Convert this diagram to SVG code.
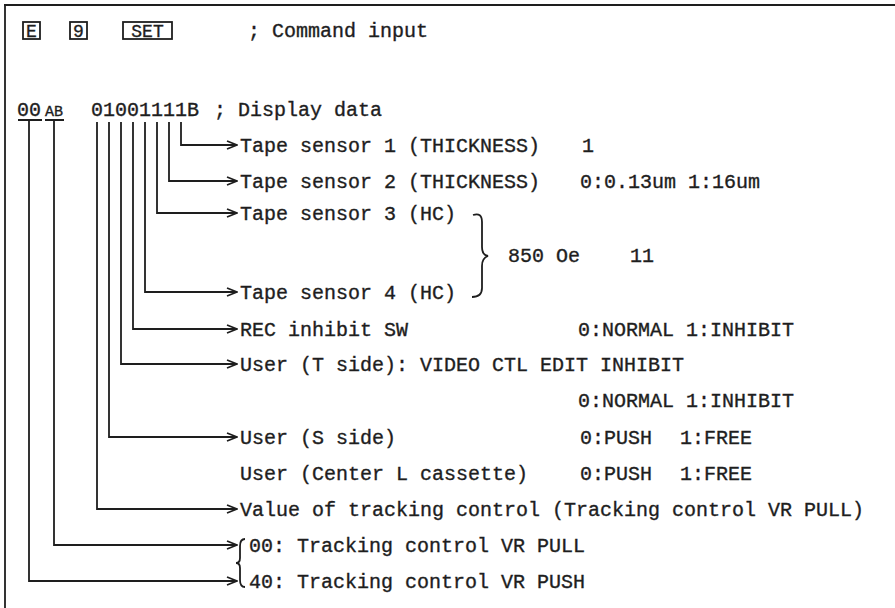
<svg xmlns="http://www.w3.org/2000/svg" width="895" height="608" viewBox="0 0 895 608">
<defs>
<style>
text{font-family:"Liberation Mono","DejaVu Sans Mono",monospace;font-size:20px;fill:#1e1e1e;stroke:#1e1e1e;stroke-width:0.35}
.small{font-size:15px}
.key{font-size:18px}
.ln{fill:none;stroke:#1e1e1e;stroke-width:1.8}
.box{fill:none;stroke:#1e1e1e;stroke-width:1.8}
</style>
<marker id="ah" markerUnits="userSpaceOnUse" markerWidth="12" markerHeight="10" refX="11" refY="5" orient="auto">
<path d="M1,1 L11,5 L1,9" fill="none" stroke="#1e1e1e" stroke-width="1.8"/>
</marker>
</defs>
<rect width="895" height="608" fill="#ffffff"/>
<g id="frame">
<path class="ln" d="M4,5 H895 M5,5 V608" stroke-width="2"/>
</g>
<g id="command">
<rect class="box" x="23" y="22" width="17" height="17"/>
<text class="key" x="31.5" y="37" text-anchor="middle">E</text>
<rect class="box" x="70" y="22" width="17" height="17"/>
<text class="key" x="78.5" y="37" text-anchor="middle">9</text>
<rect class="box" x="123" y="22" width="49" height="17"/>
<text class="key" x="147.5" y="37" text-anchor="middle">SET</text>
<text x="248" y="37">; Command input</text>
</g>
<g id="display">
<text x="17" y="116">00</text>
<text class="small" x="45" y="116">AB</text>
<path class="ln" d="M18,120 H42 M45,120 H64" stroke-width="1.6"/>
<text x="91" y="116">01001111B</text>
<text x="214" y="116">; Display data</text>
</g>
<g id="connectors">
<path class="ln" marker-end="url(#ah)" d="M181,122 V145 H237"/>
<path class="ln" marker-end="url(#ah)" d="M169,122 V181 H237"/>
<path class="ln" marker-end="url(#ah)" d="M157,122 V213 H237"/>
<path class="ln" marker-end="url(#ah)" d="M145,122 V292 H237"/>
<path class="ln" marker-end="url(#ah)" d="M133,122 V329 H237"/>
<path class="ln" marker-end="url(#ah)" d="M121,122 V364 H237"/>
<path class="ln" marker-end="url(#ah)" d="M109,122 V437 H237"/>
<path class="ln" marker-end="url(#ah)" d="M97,122 V509 H237"/>
<path class="ln" marker-end="url(#ah)" d="M54,121 V545 H237"/>
<path class="ln" marker-end="url(#ah)" d="M29,121 V581 H237"/>
</g>
<g id="tape1">
<text x="240" y="152">Tape sensor 1 (THICKNESS)</text>
<text x="582" y="152">1</text>
</g>
<g id="tape2">
<text x="240" y="188">Tape sensor 2 (THICKNESS)</text>
<text x="580" y="188">0:0.13um 1:16um</text>
</g>
<g id="tape3">
<text x="240" y="220">Tape sensor 3 (HC)</text>
</g>
<g id="tape34-brace">
<path class="ln" d="M473,215 Q482,212 482,222 L482,247 Q482,255 488,256 Q482,258 482,266 L482,288 Q482,297 472,297"/>
<text x="508" y="262">850 Oe</text>
<text x="630" y="262">11</text>
</g>
<g id="tape4">
<text x="240" y="299">Tape sensor 4 (HC)</text>
</g>
<g id="rec">
<text x="240" y="336">REC inhibit SW</text>
<text x="578" y="336">0:NORMAL 1:INHIBIT</text>
</g>
<g id="userT">
<text x="240" y="371">User (T side): VIDEO CTL EDIT INHIBIT</text>
<text x="578" y="407">0:NORMAL 1:INHIBIT</text>
</g>
<g id="userS">
<text x="240" y="444">User (S side)</text>
<text x="580" y="444">0:PUSH</text>
<text x="680" y="444">1:FREE</text>
</g>
<g id="userCenter">
<text x="240" y="480">User (Center L cassette)</text>
<text x="580" y="480">0:PUSH</text>
<text x="680" y="480">1:FREE</text>
</g>
<g id="value">
<text x="240" y="516">Value of tracking control (Tracking control VR PULL)</text>
</g>
<g id="tracking-brace">
<path class="ln" d="M245,539 Q240,539 240,546 L240,558 Q240,563 236,563 Q240,563 240,568 L240,580 Q240,587 245,587"/>
<text x="249" y="552">00: Tracking control VR PULL</text>
<text x="249" y="588">40: Tracking control VR PUSH</text>
</g>
</svg>
